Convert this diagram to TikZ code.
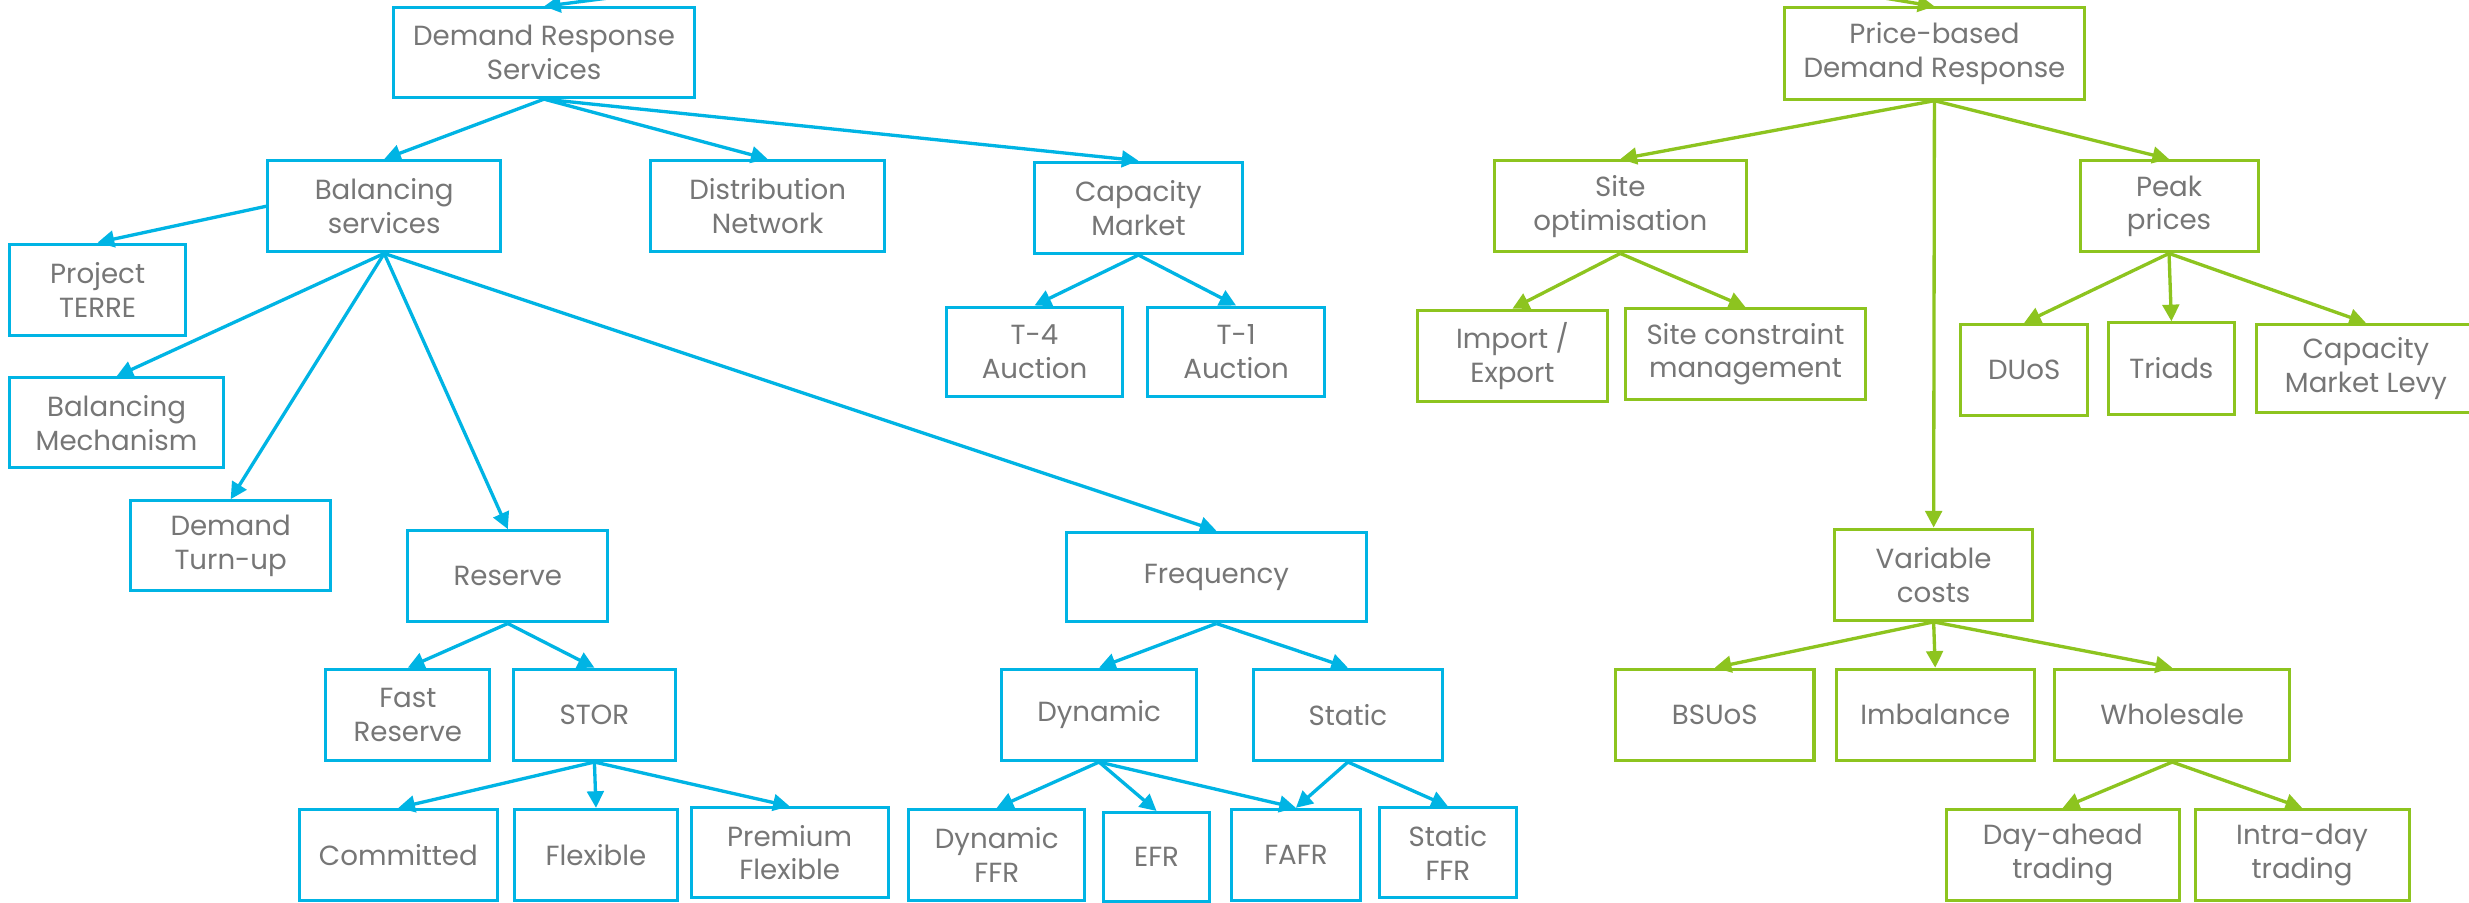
\documentclass[tikz,border=0pt]{standalone}
\usepackage{fontspec}
\setmainfont{Poppins}
\usetikzlibrary{arrows.meta}
\definecolor{dblue}{RGB}{0,180,228}
\definecolor{dgreen}{RGB}{141,196,31}
\definecolor{tgray}{RGB}{118,118,118}
\newcommand\bnode[7]{\node[#1, minimum width={(#4-#2)*0.02cm}, minimum height={(#5-#3)*0.02cm}] (#6) at ({(#2+#4)/2},{(#3+#5)/2}) {#7};}
\begin{document}
\begin{tikzpicture}[x=0.02cm,y=-0.02cm,
  bx/.style={draw, line width=1.1pt, inner sep=0pt, align=center, text=tgray, font=\fontsize{10}{12.2}\selectfont},
  bb/.style={bx, draw=dblue},
  gb/.style={bx, draw=dgreen},
  ba/.style={draw=dblue, line width=1.2pt, -{Triangle[length=6pt,width=6pt]}},
  ga/.style={draw=dgreen, line width=1.2pt, -{Triangle[length=6pt,width=6pt]}}]
\fill[white] (0,0) rectangle (1568,573);
\useasboundingbox (0,0) rectangle (1568,573);
% blue tree
\bnode{bb}{250}{5}{441}{62}{drs}{Demand Response\\Services}
\bnode{bb}{170}{102}{318}{160}{bal}{Balancing\\services}
\bnode{bb}{413}{102}{562}{160}{dist}{Distribution\\Network}
\bnode{bb}{657}{103}{789}{161}{cap}{Capacity\\Market}
\bnode{bb}{6}{155}{118}{213}{terre}{Project\\TERRE}
\bnode{bb}{601}{195}{713}{252}{tfour}{T-4\\Auction}
\bnode{bb}{729}{195}{841}{252}{tone}{T-1\\Auction}
\bnode{bb}{6}{240}{142}{297}{bm}{Balancing\\Mechanism}
\bnode{bb}{83}{318}{210}{375}{dtu}{Demand\\Turn-up}
\bnode{bb}{259}{337}{386}{395}{res}{Reserve}
\bnode{bb}{677}{338}{868}{395}{freq}{Frequency}
\bnode{bb}{207}{425}{311}{483}{fast}{Fast\\Reserve}
\bnode{bb}{326}{425}{429}{483}{stor}{STOR}
\bnode{bb}{636}{425}{760}{483}{dyn}{Dynamic}
\bnode{bb}{796}{425}{916}{483}{stat}{Static}
\bnode{bb}{190}{514}{316}{572}{comm}{Committed}
\bnode{bb}{327}{514}{430}{572}{flex}{Flexible}
\bnode{bb}{439}{513}{564}{570}{prem}{Premium\\Flexible}
\bnode{bb}{577}{514}{689}{572}{dffr}{Dynamic\\FFR}
\bnode{bb}{701}{516}{768}{572.5}{efr}{EFR}
\bnode{bb}{782}{514}{864}{572}{fafr}{FAFR}
\bnode{bb}{876}{513}{963}{570}{sffr}{Static\\FFR}
% green tree
\bnode{gb}{1133}{5}{1324}{63}{pbdr}{Price-based\\Demand Response}
\bnode{gb}{949}{102}{1109}{160}{site}{Site\\optimisation}
\bnode{gb}{1321}{102}{1434}{160}{peak}{Peak\\prices}
\bnode{gb}{900}{197}{1021}{255}{imp}{Import /\\Export}
\bnode{gb}{1032}{196}{1185}{254}{scm}{Site constraint\\management}
\bnode{gb}{1245}{206}{1326}{264}{duos}{DUoS}
\bnode{gb}{1339}{205}{1419}{263}{triads}{Triads}
\bnode{gb}{1433}{206}{1572}{262}{cml}{Capacity\\Market Levy}
\bnode{gb}{1165}{336}{1291}{394}{var}{Variable\\costs}
\bnode{gb}{1026}{425}{1152}{483}{bsuos}{BSUoS}
\bnode{gb}{1166}{425}{1292}{483}{imb}{Imbalance}
\bnode{gb}{1305}{425}{1454}{483}{whole}{Wholesale}
\bnode{gb}{1236}{514}{1384}{572}{dah}{Day-ahead\\trading}
\bnode{gb}{1394}{514}{1530}{572}{intra}{Intra-day\\trading}
% incoming arrows from above
\coordinate (tinb) at (420,-5.6);
\coordinate (ting) at (1180,-4);
% blue connectors
\draw[ba] (tinb) -- (drs.north);
\draw[ba] (drs.south) -- (bal.north);
\draw[ba] (drs.south) -- (dist.north);
\draw[ba] (drs.south) -- (cap.north);
\draw[ba] (bal.west) -- (terre.north);
\draw[ba] (bal.south) -- (bm.north);
\draw[ba] (bal.south) -- (dtu.north);
\draw[ba] (bal.south) -- (res.north);
\draw[ba] (bal.south) -- (freq.north);
\draw[ba] (cap.south) -- (tfour.north);
\draw[ba] (cap.south) -- (tone.north);
\draw[ba] (res.south) -- (fast.north);
\draw[ba] (res.south) -- (stor.north);
\draw[ba] (stor.south) -- (comm.north);
\draw[ba] (stor.south) -- (flex.north);
\draw[ba] (stor.south) -- (prem.north);
\draw[ba] (freq.south) -- (dyn.north);
\draw[ba] (freq.south) -- (stat.north);
\draw[ba] (dyn.south) -- (dffr.north);
\draw[ba] (dyn.south) -- (efr.north);
\draw[ba] (dyn.south) -- (fafr.north);
\draw[ba] (stat.south) -- (fafr.north);
\draw[ba] (stat.south) -- (sffr.north);
% green connectors
\draw[ga] (ting) -- (pbdr.north);
\draw[ga] (pbdr.south) -- (site.north);
\draw[ga] (pbdr.south) -- (peak.north);
\draw[ga] (pbdr.south) -- (var.north);
\draw[ga] (site.south) -- (imp.north);
\draw[ga] (site.south) -- (scm.north);
\draw[ga] (peak.south) -- (duos.north);
\draw[ga] (peak.south) -- (triads.north);
\draw[ga] (peak.south) -- (cml.north);
\draw[ga] (var.south) -- (bsuos.north);
\draw[ga] (var.south) -- (imb.north);
\draw[ga] (var.south) -- (whole.north);
\draw[ga] (whole.south) -- (dah.north);
\draw[ga] (whole.south) -- (intra.north);
\end{tikzpicture}
\end{document}
